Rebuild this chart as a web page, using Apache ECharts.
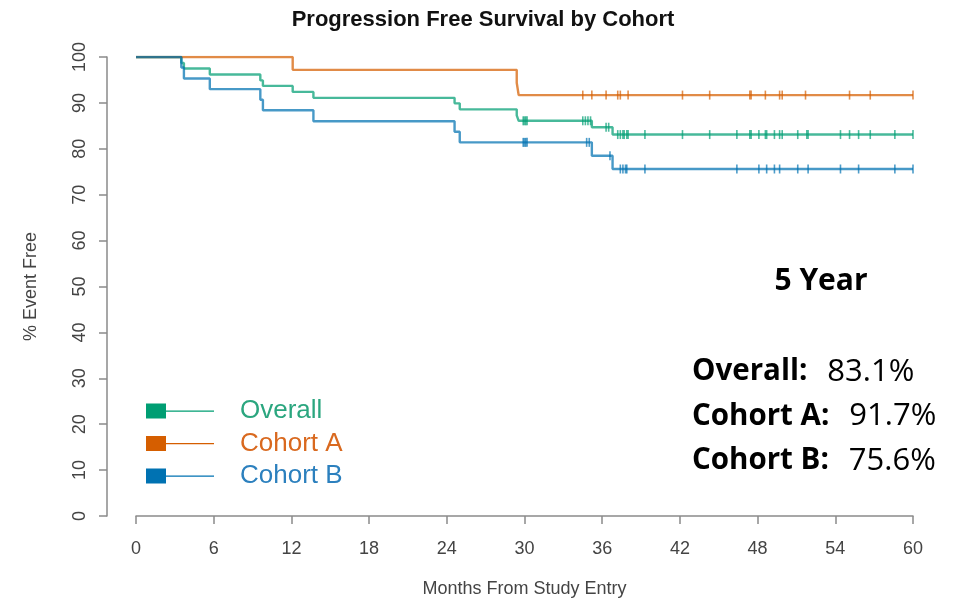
<!DOCTYPE html>
<html>
<head>
<meta charset="utf-8">
<script src="https://cdn.jsdelivr.net/npm/echarts@6/dist/echarts.min.js"></script>
<style>
  html, body { margin: 0; padding: 0; background: #fff; }
  #chart { width: 963px; height: 603px; }
</style>
</head>
<body>
<div id="chart"></div>
<script>
// ---- Data ----
const xTicks = [0, 6, 12, 18, 24, 30, 36, 42, 48, 54, 60];
const yTicks = [0, 10, 20, 30, 40, 50, 60, 70, 80, 90, 100];

// Kaplan-Meier step points: time (months) and % event free after that time
const overallTimes = [0, 3.5, 3.7, 5.7, 9.6, 9.8, 12.1, 13.7, 24.6, 25.0, 29.4, 29.55, 35.2, 36.8, 60];
const overallSurv  = [100, 98.7, 97.5, 96.2, 94.9, 93.7, 92.4, 91.1, 89.9, 88.6, 87.3, 86.1, 84.7, 83.1, 83.1];

const cohortATimes = [0, 12.1, 29.4, 29.55, 60];
const cohortASurv  = [100, 97.2, 94.4, 91.7, 91.7];

const cohortBTimes = [0, 3.5, 3.7, 5.7, 9.6, 9.8, 13.7, 24.6, 25.0, 35.2, 36.8, 60];
const cohortBSurv  = [100, 97.7, 95.3, 93.0, 90.7, 88.4, 86.0, 83.7, 81.4, 78.5, 75.6, 75.6];

// Censoring times (tick marks)
const overallCensor = [29.9, 30.0, 30.1, 30.2, 34.5, 34.7, 34.9, 35.1, 36.3, 36.5, 37.2, 37.4, 37.6, 37.7, 37.9, 38.0, 39.3, 42.2, 44.3, 46.4, 47.4, 47.5, 48.1, 48.6, 48.7, 49.3, 49.7, 49.9, 51.1, 51.8, 51.9, 54.4, 55.1, 55.8, 56.7, 58.6, 60.0];
const cohortACensor = [34.5, 35.2, 36.3, 37.2, 37.4, 38.0, 42.2, 44.3, 47.4, 47.5, 48.6, 49.7, 49.9, 51.7, 55.1, 56.7, 60.0];
const cohortBCensor = [29.9, 30.0, 30.1, 30.2, 34.8, 35.0, 36.6, 37.4, 37.6, 37.8, 37.9, 39.3, 46.4, 48.1, 48.7, 49.3, 49.7, 51.1, 51.9, 54.4, 55.8, 58.6, 60.0];

const seriesNames = ['Overall', 'Cohort A', 'Cohort B'];
const boxHeading = '5 Year';
const summaryLabels = ['Overall:', 'Cohort A:', 'Cohort B:'];
const summaryValues = ['83.1%', '91.7%', '75.6%'];

// ---- Styles ----
const colors = ['#009E73', '#D55E00', '#0072B2'];
const textColors = ['#2BA67F', '#D9691F', '#2C80BE'];

function pairs(t, s) { return t.map((v, i) => [v, s[i]]); }
function levelAt(t, times, surv) {
  let v = surv[0];
  for (let i = 0; i < times.length; i++) { if (times[i] <= t) v = surv[i]; }
  return v;
}
function censorPts(c, times, surv) { return c.map(t => [t, levelAt(t, times, surv)]); }

const groups = [
  [overallTimes, overallSurv, overallCensor],
  [cohortATimes, cohortASurv, cohortACensor],
  [cohortBTimes, cohortBSurv, cohortBCensor]
];

const series = [];
groups.forEach((g, i) => {
  series.push({
    name: seriesNames[i], type: 'line', step: 'end', showSymbol: false,
    data: pairs(g[0], g[1]), z: 3 + i,
    itemStyle: { color: colors[i] },
    lineStyle: { color: colors[i], width: 2.4, opacity: 0.72 },
    emphasis: { disabled: true }, animation: false
  });
});
groups.forEach((g, i) => {
  series.push({
    name: seriesNames[i] + ' censored', type: 'scatter', symbol: 'rect', symbolSize: [1.6, 9],
    data: censorPts(g[2], g[0], g[1]), z: 3 + i,
    itemStyle: { color: colors[i], opacity: 0.7 },
    emphasis: { disabled: true }, animation: false
  });
});

const axisGray = '#8a8a8a';
const labelGray = '#444';
const font = 'Liberation Sans, Arial, Helvetica, sans-serif';
const boxFont = '"Open Sans", Lato, sans-serif';

const graphics = [{
  type: 'text', x: 821, y: 281,
  style: { text: boxHeading, font: 'bold 30px ' + boxFont, fill: '#000', align: 'center', verticalAlign: 'middle' }
}].concat(summaryLabels.map((lab, i) => ({
  type: 'text', x: 692, y: 372 + i * 44.5,
  style: {
    text: '{b|' + lab + '}{n|' + summaryValues[i] + '}',
    verticalAlign: 'middle',
    rich: {
      b: { font: 'bold 29.5px ' + boxFont, fill: '#000' },
      n: { font: '31px ' + boxFont, fill: '#000', padding: [0, 0, 0, 20] }
    }
  }
})));

const option = {
  animation: false,
  backgroundColor: '#fff',
  title: {
    text: 'Progression Free Survival by Cohort',
    left: 478, top: 4, textAlign: 'center',
    textStyle: { fontFamily: font, fontWeight: 'bold', fontSize: 22, color: '#111' }
  },
  grid: { left: 136, right: 50, top: 57, bottom: 86 },
  xAxis: {
    type: 'value', min: 0, max: 60, interval: 6,
    name: 'Months From Study Entry', nameLocation: 'middle', nameGap: 64,
    nameTextStyle: { fontFamily: font, fontSize: 18, color: labelGray },
    axisLine: { show: true, onZero: false, lineStyle: { color: axisGray, width: 1.5 } },
    axisTick: { show: true, length: 8, lineStyle: { color: axisGray, width: 1.5 } },
    axisLabel: { margin: 24, fontFamily: font, fontSize: 18, color: labelGray },
    splitLine: { show: false }
  },
  yAxis: {
    type: 'value', min: 0, max: 100, interval: 10, offset: 29,
    name: '% Event Free', nameLocation: 'middle', nameGap: 67, nameRotate: 90,
    nameTextStyle: { fontFamily: font, fontSize: 18, color: labelGray },
    axisLine: { show: true, onZero: false, lineStyle: { color: axisGray, width: 1.5 } },
    axisTick: { show: true, length: 8, lineStyle: { color: axisGray, width: 1.5 } },
    axisLabel: { margin: 18, rotate: 90, fontFamily: font, fontSize: 18, color: labelGray },
    splitLine: { show: false }
  },
  legend: {
    orient: 'vertical', left: 141, top: 393,
    itemWidth: 68, itemHeight: 15, itemGap: 6.5,
    icon: 'path://M0,0H20V15H0Z M20,7H68V8.2H20Z',
    selectedMode: false,
    data: seriesNames.map((n, i) => ({ name: n, textStyle: { color: textColors[i] } })),
    textStyle: { fontFamily: font, fontSize: 26, padding: [0, 0, 0, 21] }
  },
  graphic: graphics,
  series: series
};

const chart = echarts.init(document.getElementById('chart'), null, { renderer: 'canvas' });
chart.setOption(option);
</script>
</body>
</html>
